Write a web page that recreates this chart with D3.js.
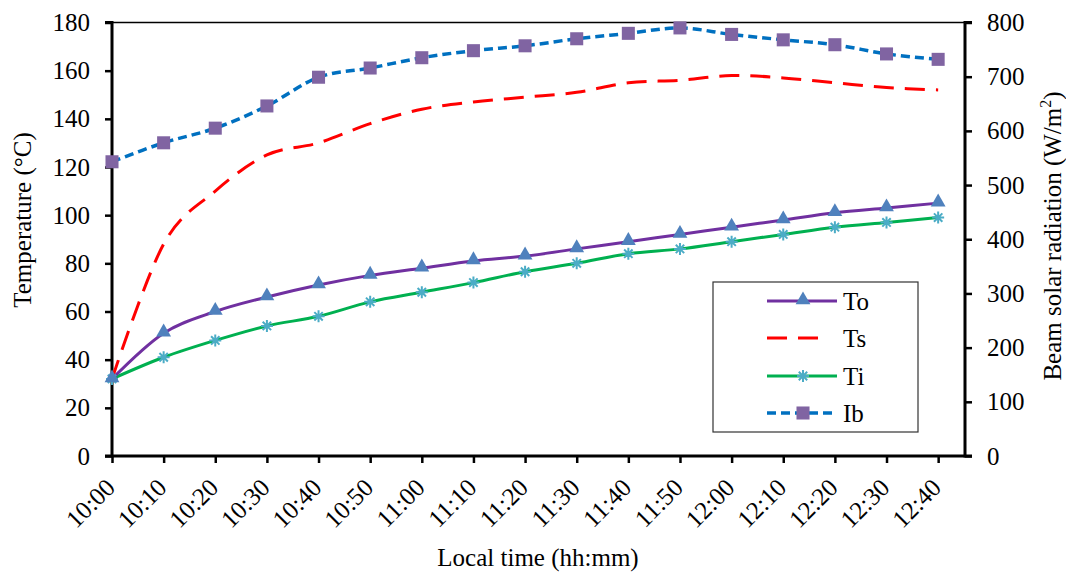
<!DOCTYPE html>
<html><head><meta charset="utf-8">
<script src="https://cdn.jsdelivr.net/npm/d3@7"></script>
<style>body{margin:0;background:#fff}svg{display:block}text{font-family:"Liberation Serif","Times New Roman",serif;fill:#000}</style>
</head><body><svg id="c" width="1066" height="575"></svg>
<script>
const times = ["10:00","10:10","10:20","10:30","10:40","10:50","11:00","11:10","11:20","11:30","11:40","11:50","12:00","12:10","12:20","12:30","12:40"];
const To = [32,51,60,66,71,75,78,81,83,86,89,92,95,98,101,103,105];
const Ts = [32,88,110,125,130,138,144,147,149,151,155,156,158,157,155,153,152];
const Ti = [32,41,48,54,58,64,68,72,76.5,80,84,86,89,92,95,97,99];
const Ib = [543,578,605,646,699,716,735,748,757,770,780,790,778,768,759,742,732];
const tempTicks = [0,20,40,60,80,100,120,140,160,180];
const radTicks = [0,100,200,300,400,500,600,700,800];

const svg = d3.select("#c");
const L = 112, R = 965, T = 22.5, B = 456;
const x = d3.scaleLinear().domain([0, 16.52]).range([L, R]);
const yT = d3.scaleLinear().domain([0, 180]).range([B, T]);
const yR = d3.scaleLinear().domain([0, 800]).range([B, T]);

// top border
svg.append("line").attr("x1",L).attr("x2",R).attr("y1",T).attr("y2",T).attr("stroke","#000").attr("stroke-width",1.5);

// axes
const fs = "25px";
const gL = svg.append("g").attr("transform",`translate(${L},0)`)
  .call(d3.axisLeft(yT).tickValues(tempTicks).tickSize(7).tickPadding(15));
const gR = svg.append("g").attr("transform",`translate(${R},0)`)
  .call(d3.axisRight(yR).tickValues(radTicks).tickSize(7).tickPadding(15));
const gB = svg.append("g").attr("transform",`translate(0,${B})`)
  .call(d3.axisBottom(x).tickValues(d3.range(times.length)).tickFormat(i=>times[i]).tickSize(7).tickSizeOuter(0));
[gL,gR,gB].forEach(g=>{
  g.attr("font-size",null).attr("font-family",null);
  g.select(".domain").attr("stroke","#000").attr("stroke-width",3);
  g.selectAll(".tick line").attr("stroke","#000").attr("stroke-width",2.5);
  g.selectAll("text").style("font-size",fs).style("font-family",'"Liberation Serif",serif').attr("fill","#000");
});
gL.select(".domain").attr("d",`M-7,${B}H0V${T}H-7`);
gR.select(".domain").attr("d",`M7,${B}H0V${T}H7`);
gB.select(".domain").attr("d",`M${L},0H${R}`);
gB.selectAll(".tick text").attr("text-anchor","end").attr("dy",null)
  .attr("transform","translate(0,29) rotate(-45)").attr("y",0).attr("x",0).attr("dominant-baseline","middle");

// axis titles
svg.append("text").attr("transform",`translate(31,220) rotate(-90)`).attr("text-anchor","middle").style("font-size","25px").text("Temperature (°C)");
const rt = svg.append("text").attr("transform",`translate(1061,236) rotate(-90)`).attr("text-anchor","middle").style("font-size","25px");
rt.append("tspan").text("Beam solar radiation (W/m");
rt.append("tspan").text("2").style("font-size","16px").attr("dy",-10);
rt.append("tspan").text(")").attr("dy",10);
svg.append("text").attr("x",538).attr("y",566).attr("text-anchor","middle").style("font-size","25px").text("Local time (hh:mm)");

const curve = d3.curveCardinal.tension(0);
const lineT = d3.line().x((d,i)=>x(i)).y(d=>yT(d)).curve(curve);
const lineR = d3.line().x((d,i)=>x(i)).y(d=>yR(d)).curve(curve);

const cIb="#0070C0", cIbM="#8064A2", cTo="#7030A0", cToM="#4F81BD", cTs="#FF0000", cTi="#00B050", cTiM="#4BACC6";

svg.append("path").attr("d",lineR(Ib)).attr("fill","none").attr("stroke",cIb).attr("stroke-width",3.5).attr("stroke-dasharray","9,5");
svg.append("path").attr("d",lineT(Ts)).attr("fill","none").attr("stroke",cTs).attr("stroke-width",3).attr("stroke-dasharray","20,11");
svg.append("path").attr("d",lineT(Ti)).attr("fill","none").attr("stroke",cTi).attr("stroke-width",3);
svg.append("path").attr("d",lineT(To)).attr("fill","none").attr("stroke",cTo).attr("stroke-width",3);

const tri = d3.symbol().type(d3.symbolTriangle).size(95);
const sq = d3.symbol().type(d3.symbolSquare).size(170);
function star(g){ // asterisk
  const r=6;
  g.append("path").attr("d",`M${-r},0H${r}M0,${-r}V${r}M${-r*0.7},${-r*0.7}L${r*0.7},${r*0.7}M${-r*0.7},${r*0.7}L${r*0.7},${-r*0.7}`)
   .attr("stroke",cTiM).attr("stroke-width",2).attr("fill","none");
}
svg.append("g").selectAll("path").data(Ib).join("path").attr("d",sq).attr("transform",(d,i)=>`translate(${x(i)},${yR(d)})`).attr("fill",cIbM);
svg.append("g").selectAll("g").data(Ti).join("g").attr("transform",(d,i)=>`translate(${x(i)},${yT(d)})`).each(function(){star(d3.select(this));});
svg.append("g").selectAll("path").data(To).join("path").attr("d",tri).attr("transform",(d,i)=>`translate(${x(i)},${yT(d)-1})`).attr("fill",cToM);

// legend
const lg = svg.append("g");
lg.append("rect").attr("x",713).attr("y",282).attr("width",205).attr("height",150).attr("fill","#fff").attr("stroke","#333").attr("stroke-width",1.2);
const items = [
  {n:"To", y:301, draw:g=>{g.append("line").attr("x1",767).attr("x2",837).attr("stroke",cTo).attr("stroke-width",3);g.append("path").attr("d",tri).attr("transform","translate(803,-1)").attr("fill",cToM);}},
  {n:"Ts", y:338, draw:g=>{g.append("line").attr("x1",767).attr("x2",829).attr("stroke",cTs).attr("stroke-width",3).attr("stroke-dasharray","20,11");}},
  {n:"Ti", y:376, draw:g=>{g.append("line").attr("x1",767).attr("x2",837).attr("stroke",cTi).attr("stroke-width",3);const s=g.append("g").attr("transform","translate(803,0)");star(s);}},
  {n:"Ib", y:413, draw:g=>{g.append("line").attr("x1",767).attr("x2",837).attr("stroke",cIb).attr("stroke-width",3.5).attr("stroke-dasharray","9,5");g.append("path").attr("d",sq).attr("transform","translate(803,0)").attr("fill",cIbM);}}
];
items.forEach(it=>{
  const g = lg.append("g").attr("transform",`translate(0,${it.y})`);
  it.draw(g);
  g.append("text").attr("x",843).attr("y",0).attr("dy","0.35em").style("font-size","25px").text(it.n);
});
</script></body></html>
